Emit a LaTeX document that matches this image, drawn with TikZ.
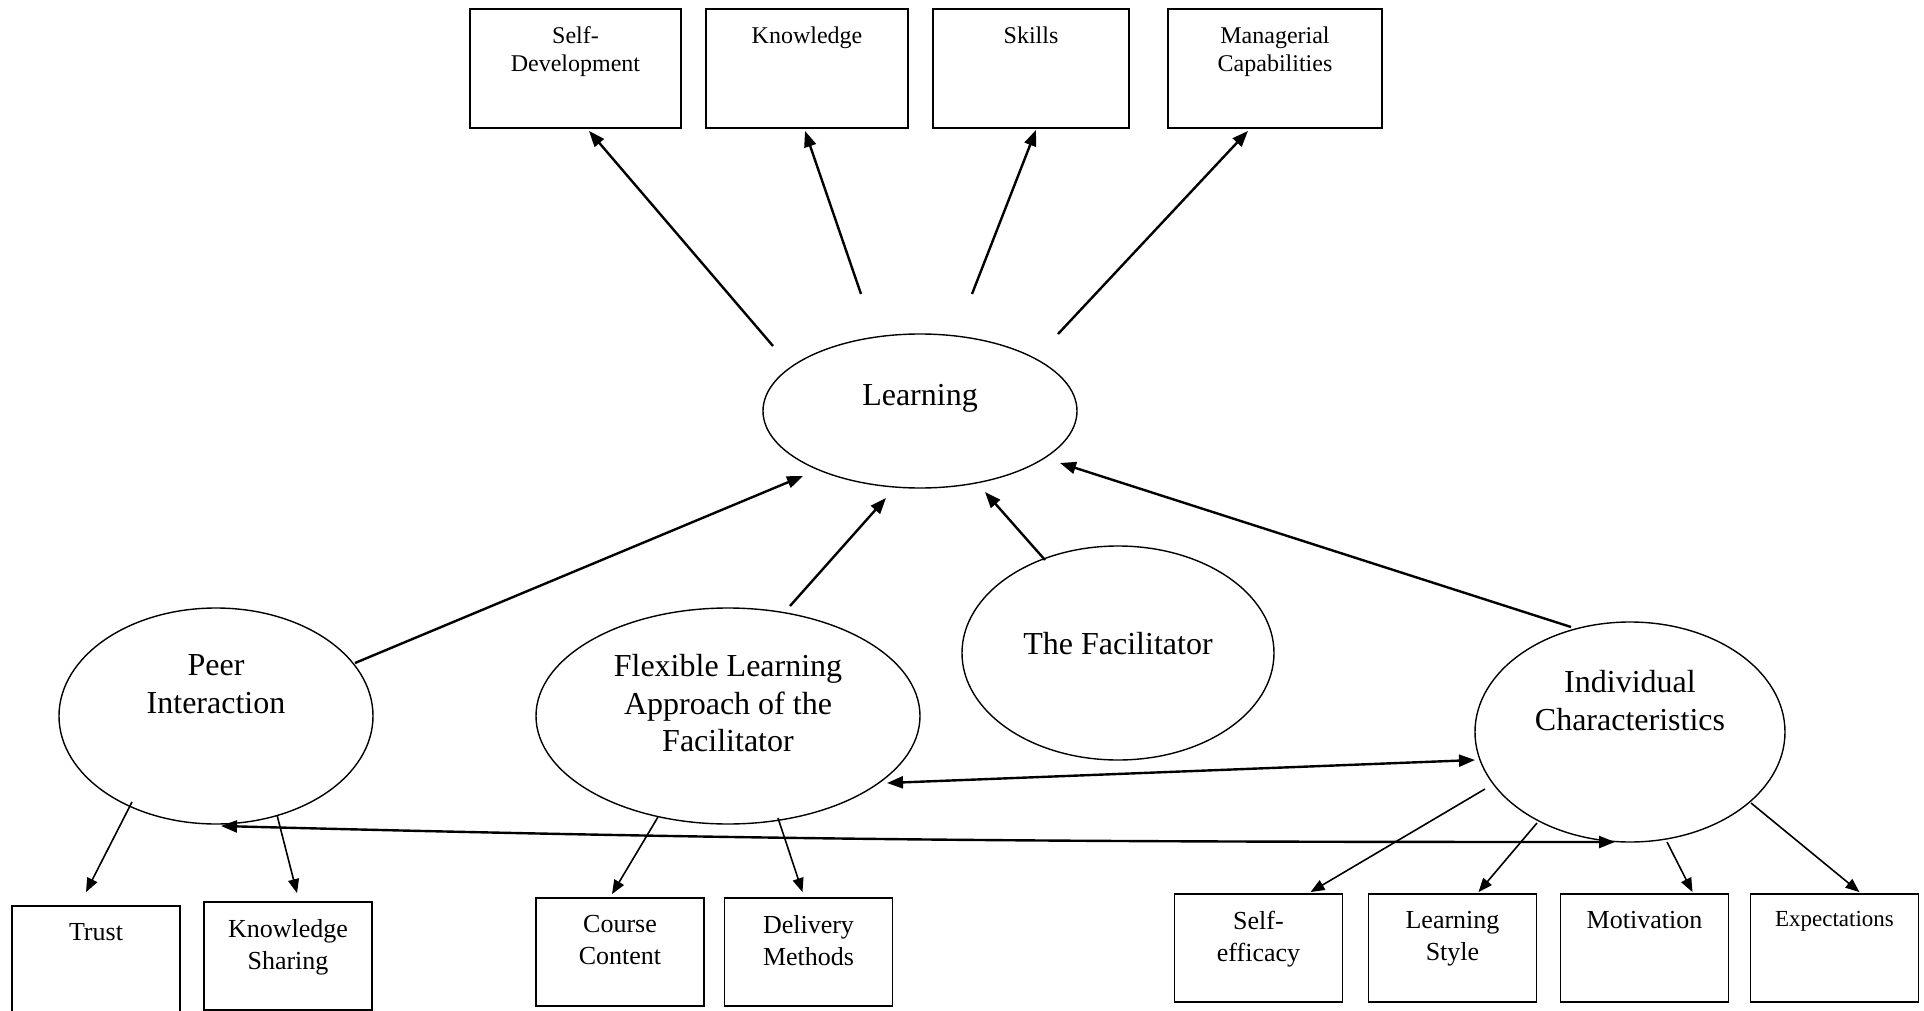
\documentclass[tikz,border=0pt]{standalone}
\usepackage{fontspec}
\setmainfont{Liberation Serif}
\usetikzlibrary{shapes.geometric,arrows.meta,positioning,calc}

\tikzset{
  box/.style={draw, line width=0.9pt, inner sep=0pt, minimum width=84pt, minimum height=54pt},
  topbox/.style={box, minimum height=59.5pt},
  oval/.style={draw, ellipse, line width=0.7pt, inner sep=0pt},
  boxtext/.style={inner sep=0pt, align=center, font=\fontsize{13}{15.75}\selectfont},
  toptext/.style={boxtext, font=\fontsize{12}{14}\selectfont},
  ovaltext/.style={inner sep=0pt, align=center, font=\fontsize{16}{18.75}\selectfont},
  link/.style={-{Triangle[length=8pt,width=6pt]}, line width=1.2pt},
  thinlink/.style={-{Triangle[length=7pt,width=5.5pt]}, line width=0.8pt},
  twoway/.style={{Triangle[length=8pt,width=6pt]}-{Triangle[length=8pt,width=6pt]}, line width=1.2pt}
}

\begin{document}
\begin{tikzpicture}[x=0.5pt, y=-0.5pt]
	\clip (0,0) rectangle (1924,1011);
	\fill[white] (0,0) rectangle (1924,1011);

	% Outcome boxes along the top
	\node[topbox, minimum width=105.5pt] (selfdev) at (575.5,68.5) {};
	\node[topbox, minimum width=101pt] (know) at (807,68.5) {};
	\node[topbox, minimum width=98pt] (skills) at (1031,68.5) {};
	\node[topbox, minimum width=107pt] (manage) at (1275,68.5) {};

	\node[toptext, below=9pt of selfdev.north] (selfdev-t) {Self-\\Development};
	\node[toptext, below=9pt of know.north] (know-t) {Knowledge};
	\node[toptext, below=9pt of skills.north] (skills-t) {Skills};
	\node[toptext, below=9pt of manage.north] (manage-t) {Managerial\\Capabilities};

	% The ovals
	\node[oval, minimum width=157pt, minimum height=77pt] (learn) at (920,411) {};
	\node[oval, minimum width=157pt, minimum height=108pt] (peer) at (216,716) {};
	\node[oval, minimum width=192pt, minimum height=108pt] (flex) at (728,716) {};
	\node[oval, minimum width=156pt, minimum height=107pt] (facil) at (1118,653) {};
	\node[oval, minimum width=155pt, minimum height=110pt] (indiv) at (1630,732) {};

	\node[ovaltext, below=25.5pt of learn.north] (learn-t) {Learning};
	\node[ovaltext, below=23.5pt of peer.north] (peer-t) {Peer\\Interaction};
	\node[ovaltext, below=23.5pt of flex.north] (flex-t) {Flexible Learning\\Approach of the\\Facilitator};
	\node[ovaltext, below=43.5pt of facil.north] (facil-t) {The Facilitator};
	\node[ovaltext, below=24.5pt of indiv.north] (indiv-t) {Individual\\Characteristics};

	% Factor boxes along the bottom
	\node[box] (trust) at (96,960) {};
	\node[box] (share) at (288,956) {};
	\node[box] (course) at (620,952) {};
	\node[box] (deliver) at (808.5,952) {};
	\node[box] (selfeff) at (1258.5,948) {};
	\node[box] (style) at (1452.5,948) {};
	\node[box] (motiv) at (1644.5,948) {};
	\node[box] (expect) at (1834.5,948) {};

	\node[boxtext, below=9pt of trust.north] (trust-t) {Trust};
	\node[boxtext, below=9pt of share.north] (share-t) {Knowledge\\Sharing};
	\node[boxtext, below=9pt of course.north] (course-t) {Course\\Content};
	\node[boxtext, below=9pt of deliver.north] (deliver-t) {Delivery\\Methods};
	\node[boxtext, below=9pt of selfeff.north] (selfeff-t) {Self-\\efficacy};
	\node[boxtext, below=9pt of style.north] (style-t) {Learning\\Style};
	\node[boxtext, below=9pt of motiv.north] (motiv-t) {Motivation};
	\node[boxtext, below=9pt of expect.north, font=\fontsize{11.5}{14}\selectfont] (expect-t) {Expectations};

	% Learning to the outcomes
	\draw[link] ($(learn.center)+(-147,-65)$) -- ($(selfdev.south)+(13.5,2)$);
	\draw[link] ($(learn.center)+(-59,-117)$) -- ($(know.south)+(-2,2)$);
	\draw[link] ($(learn.center)+(52,-117)$) -- ($(skills.south)+(5,1)$);
	\draw[link] ($(learn.center)+(138,-77)$) -- ($(manage.south)+(-27,2)$);

	% Factors into learning
	\draw[link] ($(peer.center)+(139,-53)$) -- ($(learn.center)+(-117,65)$);
	\draw[link] ($(flex.center)+(62,-110)$) -- ($(learn.center)+(-34,87)$);
	\draw[link] ($(facil.center)+(-73,-93)$) -- ($(learn.center)+(65,81)$);
	\draw[link] ($(indiv.center)+(-59,-105)$) -- ($(learn.center)+(140,52)$);

	% Ovals down to their parts
	\draw[thinlink] ($(peer.center)+(-84,86)$) -- ($(trust.north)+(-10,-13)$);
	\draw[thinlink] ($(peer.center)+(61,99)$) -- ($(share.north)+(9,-8)$);
	\draw[thinlink] ($(flex.center)+(-70,101)$) -- ($(course.north)+(-8,-3)$);
	\draw[thinlink] ($(flex.center)+(50,102)$) -- ($(deliver.north)+(-6,-5)$);
	\draw[thinlink] ($(indiv.center)+(-145,57)$) -- ($(selfeff.north)+(52,-1)$);
	\draw[thinlink] ($(indiv.center)+(-93,91)$) -- ($(style.north)+(26,-1)$);
	\draw[thinlink] ($(indiv.center)+(37,110)$) -- ($(motiv.north)+(48,-1)$);
	\draw[thinlink] ($(indiv.center)+(121,71)$) -- ($(expect.north)+(25,-1)$);

	% Two-way links
	\draw[twoway] ($(flex.center)+(159,67)$) -- ($(indiv.center)+(-155,28)$);
	\draw[twoway] ($(peer.center)+(5,110)$) to[out=-1.5, in=180] ($(indiv.center)+(-15,110)$);
\end{tikzpicture}
\end{document}
